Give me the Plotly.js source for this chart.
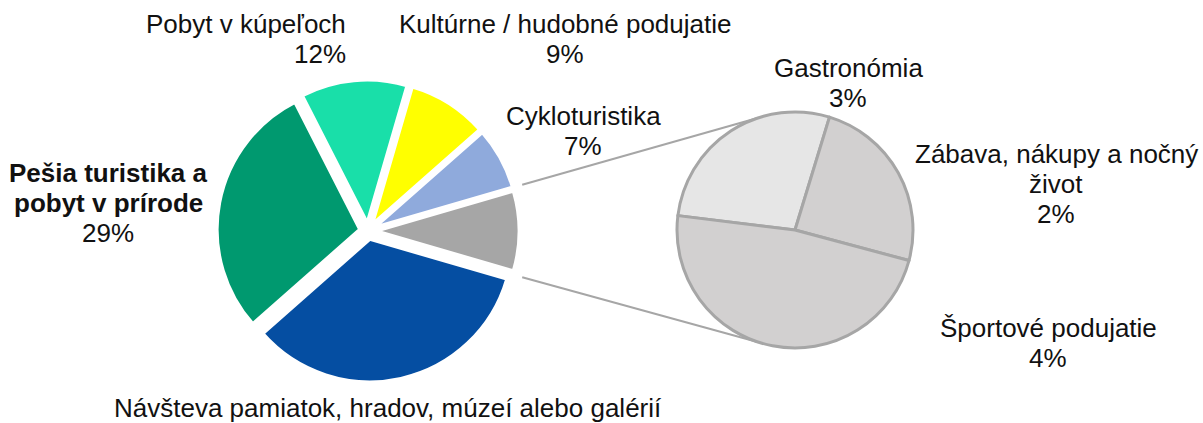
<!DOCTYPE html>
<html>
<head>
<meta charset="utf-8">
<script src="https://cdn.plot.ly/plotly-3.0.1.min.js"></script>
<style>
  html, body { margin: 0; padding: 0; background: #ffffff; }
  #chart { width: 1203px; height: 423px; }
</style>
</head>
<body>
<div id="chart"></div>
<script>
// ---- DATA ----
const categories = [
  "Návšteva pamiatok, hradov, múzeí alebo galérií",
  "Pešia turistika a pobyt v prírode",
  "Pobyt v kúpeľoch",
  "Kultúrne / hudobné podujatie",
  "Cykloturistika",
  "Ostatné"
];
const shares = [34, 29, 12, 9, 7, 9];           // % of all respondents
const otherCategories = [
  "Gastronómia",
  "Zábava, nákupy a nočný život",
  "Športové podujatie"
];
const otherShares = [2.5, 2.2, 4.3];              // split of the "Ostatné" slice (%)

// label line breaks as printed on the chart
const mainLabelLines = [
  ["Návšteva pamiatok, hradov, múzeí alebo galérií"],
  ["Pešia turistika a", "pobyt v prírode"],
  ["Pobyt v kúpeľoch"],
  ["Kultúrne / hudobné podujatie"],
  ["Cykloturistika"],
  null
];
const otherLabelLines = [
  ["Gastronómia"],
  ["Zábava, nákupy a nočný", "život"],
  ["Športové podujatie"]
];

// ---- STYLE / GEOMETRY ----
const W = 1203, H = 423;
const mainColors = ["#054EA2", "#00996F", "#19DFA9", "#FFFF00", "#8FAADC", "#A6A6A6"];
const otherColors = ["#E6E6E6", "#D2D0D0", "#D2D0D0"];
const main = { cx: 368, cy: 231, R: 151 };
const sec  = { cx: 795, cy: 230, R: 118 };
const PULL = 0.06;
const FONT = "Liberation Sans, Arial, sans-serif";
const FS = 26;
const LINE = 30;

// label placement: [x px, xanchor, first baseline px, bold lines count, showPct]
const mainLabelPos = [
  [388, "center", 417, 0, false],
  [108, "center", 182, 2, true],
  [348, "right", 33, 0, true],
  [565, "center", 33, 0, true],
  [583, "center", 125, 0, true],
  null
];
const otherLabelPos = [
  [848, "center", 77],
  [1056, "center", 163],
  [1048, "center", 337]
];

function domainOf(g) {
  return {
    x: [(g.cx - g.R) / W, (g.cx + g.R) / W],
    y: [1 - (g.cy + g.R) / H, 1 - (g.cy - g.R) / H]
  };
}

const otherIdx = categories.length - 1;
const halfOther = shares[otherIdx] / shares.reduce((a, b) => a + b, 0) * 180; // deg

const traceMain = {
  type: "pie",
  values: shares,
  labels: categories,
  sort: false,
  direction: "clockwise",
  rotation: 90 + halfOther,
  pull: shares.map(() => PULL),
  marker: { colors: mainColors, line: { color: "#ffffff", width: 3 } },
  textinfo: "none",
  hoverinfo: "label+value",
  domain: domainOf(main),
  showlegend: false
};

// first slice (Gastronómia) starts just above the left horizontal
const secStartMath = 173;
const traceOther = {
  type: "pie",
  values: otherShares,
  labels: otherCategories,
  sort: false,
  direction: "clockwise",
  rotation: 90 - secStartMath,
  marker: { colors: otherColors, line: { color: "#A6A6A6", width: 3 } },
  textinfo: "none",
  hoverinfo: "label+value",
  domain: domainOf(sec),
  showlegend: false
};

// ---- annotations ----
const annotations = [];
function addLines(lines, x, xanchor, base, boldCount) {
  lines.forEach((t, i) => {
    const yb = base + i * LINE;
    annotations.push({
      xref: "paper", yref: "paper",
      x: x / W, y: 1 - (yb - 0.36 * FS) / H,
      xanchor: xanchor, yanchor: "middle",
      text: i < boldCount ? "<b>" + t + "</b>" : t,
      showarrow: false,
      font: { family: FONT, size: FS, color: "#111111" }
    });
  });
}
categories.forEach((c, i) => {
  const pos = mainLabelPos[i];
  if (!pos) return;
  const lines = mainLabelLines[i].slice();
  if (pos[4]) lines.push(Math.round(shares[i]) + "%");
  addLines(lines, pos[0], pos[1], pos[2], pos[3]);
});
otherCategories.forEach((c, i) => {
  const pos = otherLabelPos[i];
  const lines = otherLabelLines[i].slice();
  lines.push(Math.round(otherShares[i]) + "%");
  addLines(lines, pos[0], pos[1], pos[2], 0);
});

// ---- connector lines (from the "Ostatné" slice edges to the secondary pie) ----
const shapes = [];
const startR = main.R + 10;
const endAng = 108;
[1, -1].forEach(s => {
  const a0 = s * (halfOther + 0.5) * Math.PI / 180;
  const a1 = s * endAng * Math.PI / 180;
  const x0 = main.cx + startR * Math.cos(a0), y0 = main.cy - startR * Math.sin(a0);
  const x1 = sec.cx + sec.R * Math.cos(a1), y1 = sec.cy - sec.R * Math.sin(a1);
  shapes.push({
    type: "line", xref: "paper", yref: "paper",
    x0: x0 / W, y0: 1 - y0 / H, x1: x1 / W, y1: 1 - y1 / H,
    line: { color: "#A6A6A6", width: 2 }, layer: "below"
  });
});

const layout = {
  width: W, height: H,
  margin: { l: 0, r: 0, t: 0, b: 0, pad: 0 },
  paper_bgcolor: "#ffffff",
  plot_bgcolor: "#ffffff",
  showlegend: false,
  annotations: annotations,
  shapes: shapes,
  font: { family: FONT }
};

Plotly.newPlot("chart", [traceMain, traceOther], layout, { staticPlot: true, displayModeBar: false });
</script>
</body>
</html>
